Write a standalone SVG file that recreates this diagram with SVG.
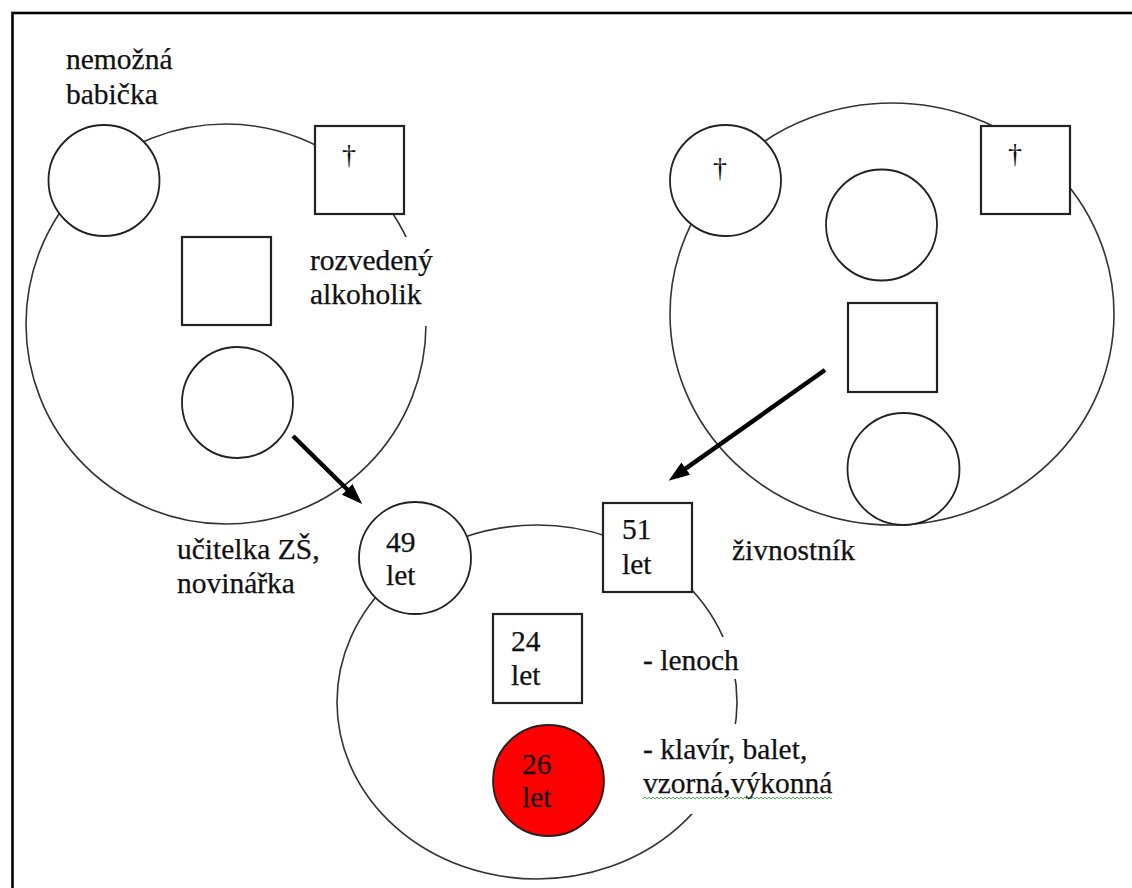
<svg xmlns="http://www.w3.org/2000/svg" width="1132" height="888" viewBox="0 0 1132 888">
<style>
.big{fill:none;stroke:#333;stroke-width:1.6}
.node{fill:#fff;stroke:#222;stroke-width:1.8}
.sq{fill:#fff;stroke:#222;stroke-width:2.2}
.red{fill:#f00;stroke:#222;stroke-width:1.8}
.t{font-size:29.5px;fill:#111;stroke:#111;stroke-width:0.25}
.dag{font-size:28px;fill:#111;text-anchor:middle}
.mask{fill:#fff;stroke:none}
.arrow{stroke:#000;stroke-width:4.5;fill:none}
</style>
<defs>
<marker id="ah" markerUnits="userSpaceOnUse" markerWidth="22" markerHeight="16" refX="8" refY="7.5" orient="auto">
<path d="M0,0 L21,7.5 L0,15 z" fill="#000"/>
</marker>
<pattern id="wave" patternUnits="userSpaceOnUse" x="643" y="796" width="4" height="4">
<path d="M0,3 L2,1 L4,3" fill="none" stroke="#4caf50" stroke-width="1"/>
</pattern>
</defs>
<rect width="1132" height="888" fill="#fff"/>
<rect x="12.5" y="13" width="1200" height="1000" fill="none" stroke="#000" stroke-width="2.6"/>

<g id="family-mother">
<circle class="big" cx="226" cy="324" r="200"/>
</g>
<g id="family-father">
<ellipse class="big" cx="892" cy="314" rx="222" ry="211"/>
</g>
<g id="family-own">
<ellipse class="big" cx="537" cy="702" rx="200" ry="177"/>
</g>

<g font-family="'Liberation Serif', 'Times New Roman', 'DejaVu Serif', serif">
<g id="grandmother-m">
<circle class="node" cx="104" cy="180.5" r="55.5"/>
</g>
<g id="grandfather-m">
<rect class="sq" x="315" y="126" width="89" height="88"/>
<text class="dag" x="349" y="164">†</text>
</g>
<g id="uncle-m">
<rect class="sq" x="182" y="237" width="89" height="88"/>
</g>
<g id="mother-young">
<circle class="node" cx="237.5" cy="402.5" r="55.5"/>
</g>

<g id="grandmother-f">
<circle class="node" cx="725.5" cy="180.5" r="55.5"/>
<text class="dag" x="720" y="177">†</text>
</g>
<g id="grandfather-f">
<rect class="sq" x="981" y="126" width="89" height="88"/>
<text class="dag" x="1015" y="163">†</text>
</g>
<g id="aunt-f">
<circle class="node" cx="881.5" cy="225" r="55.5"/>
</g>
<g id="father-young">
<rect class="sq" x="848" y="303" width="89" height="89"/>
</g>
<g id="aunt-f2">
<circle class="node" cx="903.5" cy="469" r="56"/>
</g>

<g id="mother">
<circle class="node" cx="415" cy="558" r="56"/>
<text class="t" x="386" y="552">49</text>
<text class="t" x="386" y="585">let</text>
</g>
<g id="father">
<rect class="sq" x="603" y="503" width="89" height="89"/>
<text class="t" x="622" y="539">51</text>
<text class="t" x="622" y="574">let</text>
</g>
<g id="brother">
<rect class="sq" x="493" y="614" width="89" height="89"/>
<text class="t" x="511" y="651">24</text>
<text class="t" x="511" y="685">let</text>
</g>
<g id="client">
<circle class="red" cx="548.5" cy="780.5" r="55.5"/>
<text class="t" x="522" y="774">26</text>
<text class="t" x="522" y="807">let</text>
</g>

<g id="labels">
<text class="t" x="66" y="69">nemožná</text>
<text class="t" x="66" y="104">babička</text>
<rect class="mask" x="300" y="237" width="140" height="89"/>
<text class="t" x="310" y="270">rozvedený</text>
<text class="t" x="310" y="304">alkoholik</text>
<text class="t" x="177" y="559">učitelka ZŠ,</text>
<text class="t" x="177" y="593">novinářka</text>
<text class="t" x="732" y="560">živnostník</text>
<rect class="mask" x="638" y="637" width="125" height="42"/>
<text class="t" x="643" y="670">- lenoch</text>
<rect class="mask" x="638" y="724" width="225" height="90"/>
<text class="t" x="643" y="759">- klavír,  balet,</text>
<text class="t" x="643" y="793">vzorná,výkonná</text>
<rect x="643" y="796" width="189" height="4" fill="url(#wave)"/>
</g>
</g>

<g id="connectors">
<line class="arrow" x1="293" y1="436" x2="352.9" y2="495" marker-end="url(#ah)"/>
<line class="arrow" x1="825" y1="370" x2="679.2" y2="473.2" marker-end="url(#ah)"/>
</g>
</svg>
